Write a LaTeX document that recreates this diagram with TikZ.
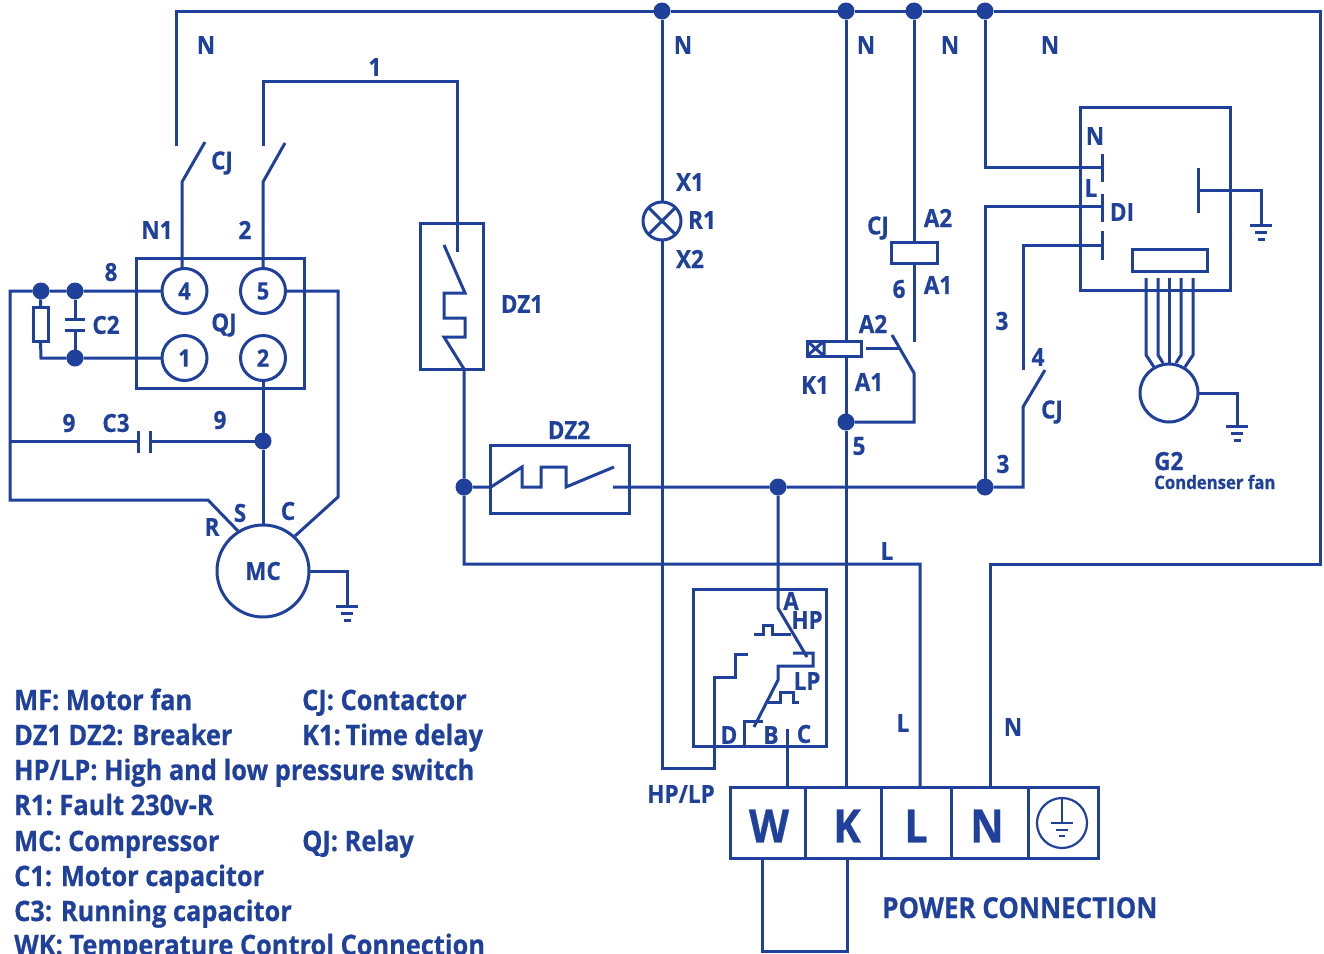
\documentclass[tikz,border=0pt]{standalone}
\usepackage{fontspec}
\setmainfont{Open Sans}[FakeStretch=0.9,BoldFeatures={FakeBold=0.5}]
\definecolor{wire}{HTML}{1F419B}
\usetikzlibrary{calc}
\tikzset{
  x=1pt,y=-1pt,
  wirepath/.style={draw=wire,line width=3pt,line join=miter},
  dot/.style={circle,fill=wire,inner sep=0pt,outer sep=0pt,minimum size=17pt},
  term/.style={circle,draw=wire,line width=3pt,inner sep=0pt,outer sep=0pt,minimum size=45pt,text=wire,font=\bfseries\fontsize{24}{24}\selectfont},
  boxnode/.style={rectangle,draw=wire,line width=3pt,inner sep=0pt,outer sep=0pt,anchor=north west},
  lab/.style={text=wire,inner sep=0pt,font=\bfseries\fontsize{25}{25}\selectfont},
  leg/.style={text=wire,inner sep=0pt,anchor=base west,font=\bfseries\fontsize{28.2}{28.2}\selectfont},
  big/.style={text=wire,inner sep=0pt,font=\bfseries\fontsize{46}{46}\selectfont},
}
\newcommand{\boxat}[5]{\node[boxnode,minimum width=#4pt-#2pt,minimum height=#5pt-#3pt] (#1) at (#2,#3) {};}
\newcommand{\groundat}[1]{%
  \path[wirepath] ($(#1)+(-11,0)$) -- ($(#1)+(11,0)$)
    ($(#1)+(-6,7)$) -- ($(#1)+(6,7)$)
    ($(#1)+(-3.5,14)$) -- ($(#1)+(3.5,14)$);}
\begin{document}
\begin{tikzpicture}
\clip (0,0) rectangle (1324,953);
\fill[white] (0,0) rectangle (1324,953);

% junctions
\node[dot] (jN1) at (662,11) {};
\node[dot] (jN2) at (846,11) {};
\node[dot] (jN3) at (914,11) {};
\node[dot] (jN4) at (985,11) {};
\node[dot] (j41) at (41,291) {};
\node[dot] (j75) at (75,291) {};
\node[dot] (j75b) at (75,358) {};
\node[dot] (j263) at (263,441) {};
\node[dot] (j464) at (464,487) {};
\node[dot] (j778) at (778,487) {};
\node[dot] (j985) at (985,487) {};
\node[dot] (j846) at (846,422) {};

% boxes
\boxat{qj}{136}{258}{304}{388}
\boxat{dz1}{420}{223}{483}{369}
\boxat{dz2}{490}{445}{629}{513}
\boxat{hplp}{693}{589}{826}{746}
\boxat{di}{1080}{107}{1230}{290}
\boxat{direct}{1132}{249}{1207}{271}
\boxat{cjcoil}{891}{242}{937}{263}
\boxat{kone}{807}{341}{861}{356}
\boxat{resist}{33}{307}{48}{341}
\boxat{tw}{730}{787}{805}{858}
\boxat{tk}{805}{787}{881}{858}
\boxat{tl}{881}{787}{951}{858}
\boxat{tn}{951}{787}{1028}{858}
\boxat{te}{1028}{787}{1098}{858}

% round terminals
\node[term] (t4) at (184.5,291) {4};
\node[term] (t5) at (263,291) {5};
\node[term] (t1) at (184.5,358) {1};
\node[term] (t2) at (263,358) {2};
\node[circle,draw=wire,line width=3pt,minimum size=92pt,inner sep=0pt,outer sep=0pt,text=wire,font=\bfseries\fontsize{25}{25}\selectfont] (mc) at (263,571) {\raisebox{-2pt}{MC}};
\node[circle,draw=wire,line width=3pt,minimum size=58pt,inner sep=0pt,outer sep=0pt] (g2) at (1169,393) {};
\node[circle,draw=wire,line width=3pt,minimum size=38pt,inner sep=0pt,outer sep=0pt] (r1) at (662,221) {};
\node[circle,draw=wire,line width=2.2pt,minimum size=50pt,inner sep=0pt,outer sep=0pt] (earth) at (1062,823) {};

% free ends
\coordinate (topL) at (176,11);
\coordinate (topR) at (1320,11);
\coordinate (cj1a) at (176,146);
\coordinate (cj1b) at (182,182);
\coordinate (cj1c) at (205,142);
\coordinate (cj2a) at (263,146);
\coordinate (cj2b) at (263,182);
\coordinate (cj2c) at (285,143);
\coordinate (dzin) at (457,252);

% top rail and N return
\path[wirepath] (cj1a) -- (topL) -- (jN1) -- (jN2) -- (jN3) -- (jN4) -- (topR) -- (1320,564) -- (990,564) -- (990,787);
% CJ switches and wire 1
\path[wirepath] (cj1c) -- (cj1b) -- (182,268.5);
\path[wirepath] (cj2c) -- (cj2b) -- (t5.north);
\path[wirepath] (cj2a) -- (263,81) -- (457,81) -- (dzin);
% DZ1
\path[wirepath] (444,245) -- (465,293) -- (444,293) -- (444,318) -- (465,318) -- (465,337) -- (444,337) -- (464,369) -- (j464) -- (464,564) -- (920,564) -- (920,787);
% DZ2
\path[wirepath] (j464) -- (491,487) -- (522,467) -- (522,487) -- (541,487) -- (541,467) -- (566,467) -- (566,487) -- (614,467);
\path[wirepath] (613,487) -- (j778) -- (j985) -- (1023,487) -- (1023,407) -- (1045,370);
\path[wirepath] (1023,370) -- (1023,245) -- (1102,245);
\path[wirepath] (j985) -- (985,206) -- (1102,206);
\path[wirepath] (jN4) -- (985,167) -- (1102,167);
% DI plates
\path[wirepath] (1102,154) -- (1102,182) (1102,194) -- (1102,222) (1102,231) -- (1102,260);
\path[wirepath] (1198,168) -- (1198,213);
\path[wirepath] (1198,190) -- (1261,190) -- (1261,225);
\groundat{1261,225}
% fan wires
\path[wirepath] (1146,278) -- (1146,355) -- (1154,367);
\path[wirepath] (1158,278) -- (1158,355) -- (1163,363);
\path[wirepath] (1169.5,278) -- (1169.5,364);
\path[wirepath] (1181,278) -- (1181,355) -- (1176,363);
\path[wirepath] (1193,278) -- (1193,355) -- (1185,367);
\path[wirepath] (g2.east) -- (1237,393) -- (1237,426);
\groundat{1237,426}
% R1 lamp
\path[wirepath] (jN1) -- (r1.north);
\path[wirepath] (r1.45) -- (r1.225) (r1.135) -- (r1.315);
\path[wirepath] (r1.south) -- (662,768) -- (714,768) -- (714,677) -- (735,677) -- (735,654) -- (748,654);
% K wire
\path[wirepath] (jN2) -- (846,341);
\path[wirepath] (846,356) -- (j846) -- (846,787);
\path[wirepath] (824,341) -- (824,356) (807,341) -- (824,356) (824,341) -- (807,356);
% CJ coil
\path[wirepath] (jN3) -- (cjcoil.north);
\path[wirepath] (cjcoil.south) -- (914,342);
\path[wirepath] (866,348) -- (900,348);
\path[wirepath] (892,335) -- (914,373) -- (914,422) -- (j846);
% HP/LP
\path[wirepath] (j778) -- (778,608) -- (807,657);
\path[wirepath] (754,634) -- (763,634) -- (763,625) -- (772,625) -- (772,634) -- (791,634);
\path[wirepath] (793,653) -- (813,653) -- (813,666) -- (778,666) -- (778,680) -- (754,727);
\path[wirepath] (768,702) -- (780,702) -- (780,692) -- (793,692) -- (793,702) -- (799,702);
\path[wirepath] (744,746) -- (744,721) -- (763,721);
\path[wirepath] (787,729) -- (787,787);
% left network
\path[wirepath] (t4.west) -- (j75) -- (j41) -- (10,291) -- (10,500) -- (208,500) -- (238,531);
\path[wirepath] (j41) -- (resist.north);
\path[wirepath] (resist.south) -- (41,358) -- (j75b) -- (t1.west);
\path[wirepath] (j75) -- (75,319) (j75b) -- (75,330);
\path[wirepath] (65,319) -- (85,319) (65,330) -- (85,330);
\path[wirepath] (10,441) -- (138,441) (150,441) -- (j263);
\path[wirepath] (138,431) -- (138,453) (150,431) -- (150,453);
\path[wirepath] (t2.south) -- (j263) -- (mc.north);
\path[wirepath] (t5.east) -- (338,291) -- (338,497) -- (295,536);
\path[wirepath] (mc.east) -- (347,571) -- (347,606);
\groundat{347,606}
% terminal block link
\path[wirepath] (762,858) -- (762,951) -- (847,951) -- (847,858);
% earth symbol
\path[draw=wire,line width=2.2pt] (earth.north) -- (1062,823) (1051,823) -- (1073,823) (1056,830) -- (1068,830) (1059,836) -- (1065,836);

% labels
\node[lab] (l1) at (206,45) {N};
\node[lab] (l2) at (683,45) {N};
\node[lab] (l3) at (866,45) {N};
\node[lab] (l4) at (950,45) {N};
\node[lab] (l5) at (1050,45) {N};
\node[lab] (l6) at (375,67) {1};
\node[lab] (l7) at (222,163) {CJ};
\node[lab] (l8) at (157,230) {N1};
\node[lab] (l9) at (245,230) {2};
\node[lab] (l10) at (111,272) {8};
\node[lab] (l11) at (106,325) {C2};
\node[lab] (l12) at (224,325) {QJ};
\node[lab] (l13) at (69,423) {9};
\node[lab] (l14) at (116,423) {C3};
\node[lab] (l15) at (220,420) {9};
\node[lab] (l16) at (240,513) {S};
\node[lab] (l17) at (288,511) {C};
\node[lab] (l18) at (212,527) {R};
\node[lab] (l19) at (522,304) {DZ1};
\node[lab] (l20) at (569,430) {DZ2};
\node[lab] (l21) at (690,182) {X1};
\node[lab] (l22) at (702,220) {R1};
\node[lab] (l23) at (690,259) {X2};
\node[lab] (l24) at (878,228) {CJ};
\node[lab] (l25) at (938,218) {A2};
\node[lab] (l26) at (899,289) {6};
\node[lab] (l27) at (938,285) {A1};
\node[lab] (l28) at (873,324) {A2};
\node[lab] (l29) at (869,382) {A1};
\node[lab] (l30) at (815,385) {K1};
\node[lab] (l31) at (859,446) {5};
\node[lab] (l32) at (887,551) {L};
\node[lab] (l33) at (1002,321) {3};
\node[lab] (l34) at (1003,464) {3};
\node[lab] (l35) at (1038,357) {4};
\node[lab] (l36) at (1052,412) {CJ};
\node[lab] (l37) at (1095,136) {N};
\node[lab] (l38) at (1091,188) {L};
\node[lab] (l39) at (1122,212) {DI};
\node[lab,anchor=base west] (l40) at (1154,470) {G2};
\node[lab,anchor=base west,font=\bfseries\fontsize{18.6}{18.6}\selectfont] (l41) at (1154,489) {Condenser fan};
\node[lab] (l42) at (791,601) {A};
\node[lab] (l43) at (807,620) {HP};
\node[lab] (l44) at (807,681) {LP};
\node[lab] (l45) at (729,735) {D};
\node[lab] (l46) at (771,735) {B};
\node[lab] (l47) at (804,734) {C};
\node[lab] (l48) at (681,794) {HP/LP};
\node[lab] (l49) at (903,723) {L};
\node[lab] (l50) at (1013,727) {N};
\node[lab,anchor=base west,font=\bfseries\fontsize{28.8}{28.8}\selectfont] (l51) at (882,918) {POWER CONNECTION};
\node[big] (bw) at (769,826) {W};
\node[big] (bk) at (847,826) {K};
\node[big] (bl) at (916,826) {L};
\node[big] (bn) at (987,826) {N};

% legend
\node[leg] (m1) at (14,710) {MF: Motor fan};
\node[leg] (m2) at (302,710) {CJ: Contactor};
\node[leg] (m3) at (14,745) {DZ1 DZ2: Breaker};
\node[leg] (m4) at (302,745) {K1:\hspace{-4pt} Time delay};
\node[leg] (m5) at (14,780) {HP/LP: High and low pressure switch};
\node[leg] (m6) at (14,815) {R1:\hspace{-2pt} Fault 230v-R};
\node[leg] (m7) at (14,851) {MC: Compressor};
\node[leg] (m8) at (302,851) {QJ: Relay};
\node[leg] (m9) at (14,886) {C1: Motor capacitor};
\node[leg] (m10) at (14,921) {C3: Running capacitor};
\node[leg] (m11) at (14,955) {WK: Temperature Control Connection};
\end{tikzpicture}
\end{document}
